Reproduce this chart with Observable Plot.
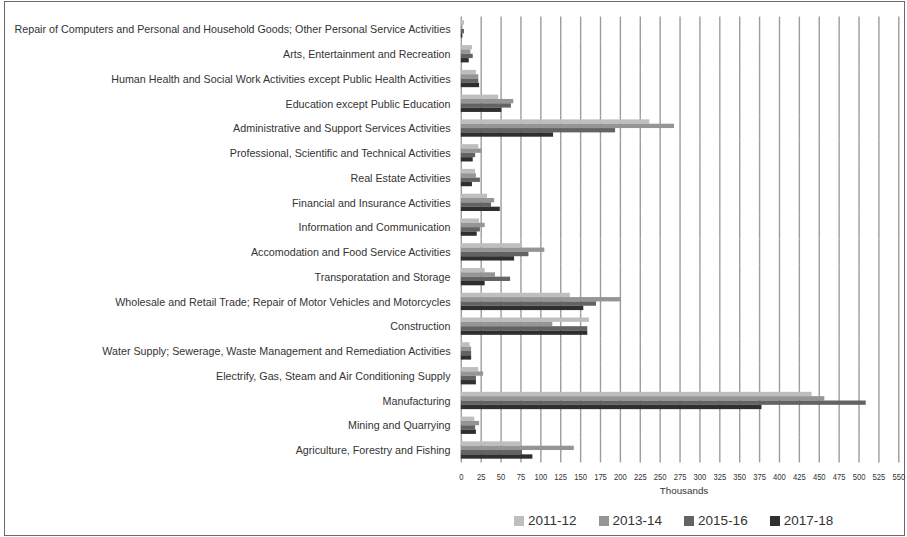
<!DOCTYPE html>
<html>
<head>
<meta charset="utf-8">
<script src="https://cdn.jsdelivr.net/npm/d3@7"></script>
<script src="https://cdn.jsdelivr.net/npm/@observablehq/plot@0.6"></script>
<style>
  html, body { margin: 0; padding: 0; background: #fff; }
  #wrap { position: relative; width: 907px; height: 537px; overflow: hidden;
    font-family: "Liberation Sans", Arial, sans-serif; color: #333; }
  #frame { position: absolute; left: 4px; top: 1px; width: 899px; height: 533px; border: 1.5px solid #6a6a6a; }
  #chart { position: absolute; left: 0; top: 0; }
  #xlabel { position: absolute; top: 485px; left: 584px; width: 200px; text-align: center; font-size: 9.8px; }
  #legend { position: absolute; top: 513px; left: 514px; display: flex; gap: 22px; font-size: 13.5px; }
  .item { display: flex; align-items: center; }
  .sw { width: 10px; height: 10px; margin-right: 4px; }
</style>
</head>
<body>
<div id="wrap">
  <div id="frame"></div>
  <div id="chart"></div>
  <div id="xlabel"></div>
  <div id="legend"></div>
</div>
<script>
const categories = [
  "Repair of Computers and Personal and Household Goods; Other Personal Service Activities",
  "Arts, Entertainment and Recreation",
  "Human Health and Social Work Activities except Public Health Activities",
  "Education except Public Education",
  "Administrative and Support Services Activities",
  "Professional, Scientific and Technical Activities",
  "Real Estate Activities",
  "Financial and Insurance Activities",
  "Information and Communication",
  "Accomodation and Food Service Activities",
  "Transporatation and Storage",
  "Wholesale and Retail Trade; Repair of Motor Vehicles and Motorcycles",
  "Construction",
  "Water Supply; Sewerage, Waste Management and Remediation Activities",
  "Electrify, Gas, Steam and Air Conditioning Supply",
  "Manufacturing",
  "Mining and Quarrying",
  "Agriculture, Forestry and Fishing"
];
const series = ["2011-12", "2013-14", "2015-16", "2017-18"];
const values2011 = [4, 14, 19, 47, 237, 22, 18, 33, 23, 76, 30, 137, 161, 11, 22, 441, 17, 76];
const values2013 = [2, 12, 22, 66, 268, 26, 19, 42, 30, 105, 43, 201, 115, 13, 28, 457, 23, 142];
const values2015 = [4, 15, 22, 63, 194, 18, 24, 38, 24, 85, 62, 170, 159, 13, 19, 509, 18, 77];
const values2017 = [2, 10, 23, 51, 116, 15, 14, 49, 20, 67, 30, 154, 159, 13, 19, 378, 19, 90];
const xTicks = [0, 25, 50, 75, 100, 125, 150, 175, 200, 225, 250, 275, 300, 325, 350, 375, 400, 425, 450, 475, 500, 525, 550];
const xTitle = "Thousands";
const colors = ["#bebebe", "#959595", "#636363", "#2f2f2f"];

const seriesValues = [values2011, values2013, values2015, values2017];
const rows = categories.flatMap((c, i) =>
  series.map((s, j) => ({category: c, series: s, value: seriesValues[j][i]}))
);

const chart = Plot.plot({
  width: 907,
  height: 500,
  marginLeft: 460.8,
  marginRight: 8.7,
  marginTop: 16.6,
  marginBottom: 37.6,
  style: {fontFamily: '"Liberation Sans", Arial, sans-serif', color: "#333", background: "transparent"},
  facet: {data: rows, y: "category"},
  fy: {domain: categories, padding: 0, round: false, label: null, tickSize: 0, tickPadding: 10.8},
  y: {domain: series, paddingInner: 0, paddingOuter: 0.86, round: false, axis: null},
  x: {domain: [0, 550], ticks: xTicks, tickSize: 0, tickPadding: 10, label: null, tickFormat: d => String(d)},
  color: {domain: series, range: colors},
  marks: [
    Plot.ruleX(xTicks, {stroke: "#9c9c9c", strokeWidth: 1.4}),
    Plot.barX(rows, {x: "value", y: "series", fill: "series"})
  ]
});
document.getElementById("chart").appendChild(chart);

// condense the axis labels to match the narrow face of the original
function condense(t, k) {
  const w = t.getComputedTextLength();
  if (w > 0) {
    t.setAttribute("textLength", (w * k).toFixed(2));
    t.setAttribute("lengthAdjust", "spacingAndGlyphs");
  }
}
const fyTexts = Array.from(chart.querySelectorAll("g[aria-label='fy-axis'] text, g[aria-label='fy-axis tick label'] text"));
fyTexts.forEach(t => { t.style.fontSize = "11.6px"; t.style.fill = "#333"; });
const maxW = Math.max(...fyTexts.map(t => t.getComputedTextLength()));
const fyScale = maxW > 0 ? Math.min(1, 436 / maxW) : 1;
fyTexts.forEach(t => condense(t, fyScale));

const xTexts = Array.from(chart.querySelectorAll("g[aria-label='x-axis'] text, g[aria-label='x-axis tick label'] text"));
xTexts.forEach(t => { t.style.fontSize = "9.3px"; t.style.fill = "#333"; });
xTexts.forEach(t => condense(t, 0.82));

document.getElementById("xlabel").textContent = xTitle;
const legend = document.getElementById("legend");
series.forEach((s, j) => {
  const item = document.createElement("div");
  item.className = "item";
  const sw = document.createElement("div");
  sw.className = "sw";
  sw.style.background = colors[j];
  const label = document.createElement("span");
  label.textContent = s;
  item.appendChild(sw);
  item.appendChild(label);
  legend.appendChild(item);
});
</script>
</body>
</html>
